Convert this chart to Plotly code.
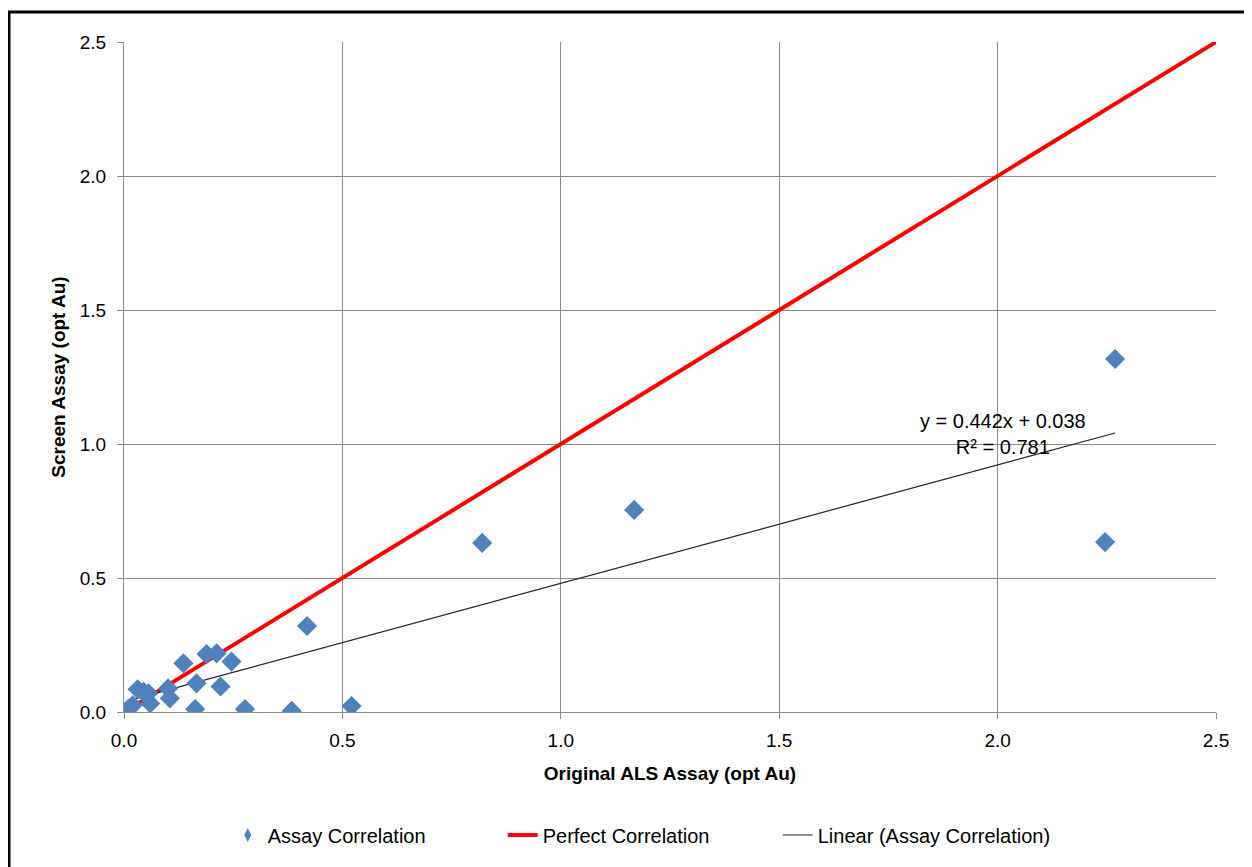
import plotly.graph_objects as go

# Data
als_assay = [0.010, 0.020, 0.031, 0.045, 0.056, 0.060, 0.101, 0.105, 0.136, 0.163,
             0.166, 0.189, 0.212, 0.221, 0.246, 0.277, 0.384, 0.419, 0.521,
             0.820, 1.168, 2.246, 2.269]
screen_assay = [0.012, 0.025, 0.085, 0.075, 0.070, 0.032, 0.088, 0.051, 0.182, 0.011,
                0.107, 0.216, 0.219, 0.095, 0.188, 0.011, 0.004, 0.321, 0.022,
                0.631, 0.754, 0.634, 1.317]

perfect_x = [0.0, 2.5]
perfect_y = [0.0, 2.5]

trend_slope = 0.442
trend_intercept = 0.038
trend_r2 = 0.781

x_ticks = [0.0, 0.5, 1.0, 1.5, 2.0, 2.5]
y_ticks = [0.0, 0.5, 1.0, 1.5, 2.0, 2.5]

trend_x = [min(als_assay), max(als_assay)]
trend_y = [trend_slope * v + trend_intercept for v in trend_x]

FONT = "Liberation Sans, Arial, sans-serif"
GRID = "#8c8c8c"
BLUE = "#4f81bd"

fig = go.Figure()
# legend-only entry with a small diamond, like the reference legend
fig.add_trace(go.Scatter(
    x=[None], y=[None], mode="markers", name="Assay Correlation",
    marker=dict(symbol="diamond-tall", size=10, color=BLUE), legendrank=1))
fig.add_trace(go.Scatter(
    x=perfect_x, y=perfect_y, mode="lines", name="Perfect Correlation",
    line=dict(color="#ff0000", width=4), legendrank=2))
fig.add_trace(go.Scatter(
    x=trend_x, y=trend_y, mode="lines", name="Linear (Assay Correlation)",
    line=dict(color="#222222", width=1.2), legendrank=3))
fig.add_trace(go.Scatter(
    x=als_assay, y=screen_assay, mode="markers", name="Assay Correlation",
    marker=dict(symbol="diamond", size=15.5, color=BLUE, line=dict(width=0)),
    showlegend=False))

fig.add_annotation(
    x=2.012, y=1.039, xref="x", yref="y",
    text=f"y = {trend_slope:.3f}x + {trend_intercept:.3f}<br>R² = {trend_r2:.3f}",
    showarrow=False, align="center",
    font=dict(family=FONT, size=20, color="#000000"))

fig.add_shape(type="rect", xref="paper", yref="paper",
              x0=-0.1053, x1=1.2, y0=-0.4, y1=1.0448,
              line=dict(color="#000000", width=3), fillcolor="rgba(0,0,0,0)",
              layer="above")

fig.update_layout(
    width=1244, height=859,
    margin=dict(l=116, r=36, t=34, b=155),
    paper_bgcolor="white", plot_bgcolor="white",
    font=dict(family=FONT, size=20, color="#000000"),
    showlegend=True,
    legend=dict(orientation="h", x=0.095, xanchor="left", y=-0.1836,
                yanchor="middle", font=dict(family=FONT, size=20),
                traceorder="normal", entrywidth=230, entrywidthmode="pixels"),
    xaxis=dict(range=[0, 2.5], tickvals=x_ticks, ticktext=[f"{v:.1f}" for v in x_ticks],
               showgrid=True, gridcolor=GRID, gridwidth=1, zeroline=False,
               showline=True, linecolor=GRID, linewidth=1,
               ticks="outside", ticklen=6, tickcolor=GRID, ticklabelstandoff=5,
               tickfont=dict(family=FONT, size=19, color="#000000"),
               title=dict(text="<b>Original ALS Assay (opt Au)</b>", standoff=16,
                          font=dict(family=FONT, size=19))),
    yaxis=dict(range=[0, 2.5], tickvals=y_ticks, ticktext=[f"{v:.1f}" for v in y_ticks],
               showgrid=True, gridcolor=GRID, gridwidth=1, zeroline=False,
               showline=True, linecolor=GRID, linewidth=1,
               ticks="outside", ticklen=6, tickcolor=GRID, ticklabelstandoff=7,
               tickfont=dict(family=FONT, size=19, color="#000000"),
               title=dict(text="<b>Screen Assay (opt Au)</b>", standoff=9,
                          font=dict(family=FONT, size=19))),
)

fig.write_html("out.html")
